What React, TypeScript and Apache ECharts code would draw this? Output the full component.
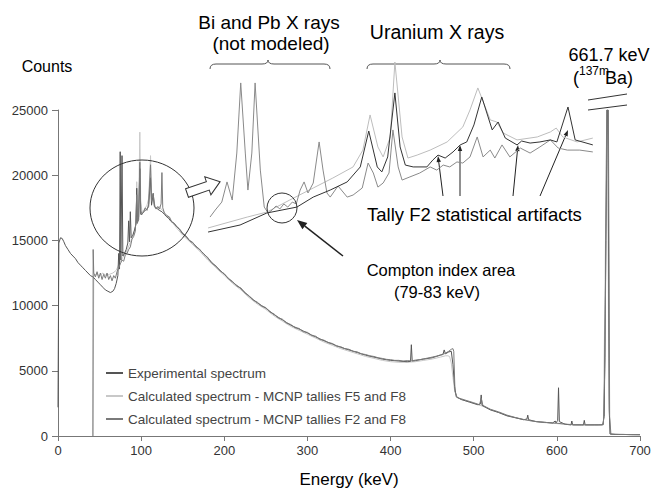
import React, { useEffect, useRef } from 'react';
import * as echarts from 'echarts';

// ---------- Data (energy keV, counts) ----------
const LEGEND_NAMES = [
  'Experimental spectrum',
  'Calculated spectrum - MCNP tallies F5 and F8',
  'Calculated spectrum - MCNP tallies F2 and F8',
];

const EXPERIMENTAL: [number, number][] = [
  [0, 2200], [1, 14800], [3, 15200], [5, 15150], [7, 14900], [9, 14600], [12, 14300], [15, 14000], [18, 13800],
  [21, 13600], [24, 13300], [27, 13100], [30, 12900], [33, 12700], [36, 12500], [39, 12300], [42, 12200],
  [45, 12000], [48, 11800], [51, 11600], [54, 11400], [57, 11200], [60, 11100], [63, 11000], [66, 11100],
  [68, 11300], [70, 11700], [72, 12300], [73, 14000], [74, 12800], [74.8, 21800], [75.6, 13500], [77, 21500],
  [78, 13800], [80, 14000], [82, 14300], [84, 14800], [85, 16500], [86, 14900], [87, 17200], [88, 15200],
  [90, 15400], [92, 15800], [94, 16300], [94.7, 19000], [95.5, 16400], [97, 16600], [98.4, 20500], [99.5, 17000],
  [101, 17000], [103, 17200], [105, 17300], [107, 17400], [109, 17600], [111.3, 19800], [112.5, 17700],
  [114.5, 18600], [116, 17600], [118, 17500], [120, 17400], [122, 17300], [125, 17200], [128, 17000],
  [130, 16850], [133, 16700], [136, 16450], [139, 16350], [142, 16100], [146, 15850], [150, 15500], [154, 15300],
  [158, 15000], [162, 14800], [166, 14550], [170, 14300], [175, 14000], [180, 13650], [185, 13300], [190, 13000],
  [195, 12700], [200, 12400], [205, 12100], [210, 11800], [215, 11550], [220, 11300], [225, 11000], [230, 10700],
  [235, 10450], [240, 10200], [245, 10000], [250, 9800], [255, 9550], [260, 9300], [265, 9100], [270, 8900],
  [275, 8700], [280, 8500], [285, 8350], [290, 8200], [295, 8050], [300, 7900], [305, 7750], [310, 7600],
  [315, 7450], [320, 7300], [325, 7180], [330, 7050], [335, 6920], [340, 6800], [345, 6700], [350, 6600],
  [355, 6500], [360, 6400], [365, 6300], [370, 6200], [375, 6120], [380, 6050], [385, 5980], [390, 5900],
  [395, 5850], [400, 5800], [405, 5780], [410, 5750], [415, 5720], [420, 5700], [424, 5720], [425, 7000],
  [426, 5750], [430, 5780], [435, 5850], [440, 5900], [445, 5950], [450, 6000], [455, 6100], [460, 6200],
  [463, 6250], [464.5, 6600], [466, 6300], [470, 6450], [473, 6500], [475, 5500], [477, 3800], [479, 3000],
  [485, 2800], [495, 2600], [505, 2400], [508, 2450], [509, 3150], [510, 2350], [520, 2000], [530, 1800],
  [540, 1550], [550, 1400], [560, 1250], [564, 1300], [565, 1600], [566, 1250], [575, 1100], [585, 1050],
  [595, 1000], [598, 1150], [599, 1000], [601, 1200], [602, 3700], [603, 1100], [610, 900], [617, 850],
  [618, 1150], [619, 850], [630, 850], [632, 850], [633, 1200], [634, 850], [645, 850], [655, 850],
  [657, 1500], [659, 15000], [660.5, 25000], [661.5, 25000], [663, 2000], [664, 150], [670, 120], [680, 120],
  [690, 100], [700, 100],
];

const CALC_F5F8: [number, number][] = [
  [42, 0], [43, 12300], [46, 12400], [50, 12300], [54, 12500], [58, 12300], [62, 12400], [66, 12500], [70, 12700],
  [72, 13000], [74, 13300], [76, 13500], [78, 13700], [80, 13900], [82, 14100], [84, 14400], [86, 14700],
  [88, 15000], [90, 15300], [92, 15700], [94, 16300], [94.7, 19500], [95.5, 16800], [97, 17500], [98.4, 23300],
  [99.5, 18000], [101, 17200], [103, 17300], [105, 17500], [107, 17700], [109, 18200], [111.3, 21500],
  [112.5, 18300], [114.5, 18200], [116, 17800], [118, 17500], [120, 17500], [122, 17600], [124, 17400],
  [126, 17300], [128, 17100], [131, 16900], [135, 16600], [140, 16150], [150, 15400], [160, 14800], [170, 14200],
  [180, 13500], [190, 12900], [200, 12300], [210, 11700], [220, 11200], [230, 10600], [240, 10100], [250, 9700],
  [260, 9200], [270, 8800], [280, 8400], [290, 8100], [300, 7800], [310, 7500], [320, 7200], [330, 6950],
  [340, 6700], [350, 6500], [360, 6300], [370, 6100], [380, 5950], [390, 5800], [400, 5700], [410, 5650],
  [420, 5650], [430, 5700], [440, 5800], [450, 5900], [460, 6050], [466, 6150], [469, 6150], [471, 6100],
  [473, 5600], [475, 4500], [477, 3500], [480, 3000], [485, 2800], [490, 2700], [500, 2500], [510, 2300],
  [520, 2050], [530, 1800], [540, 1550], [550, 1400], [560, 1250], [570, 1150], [580, 1050], [590, 1000],
  [600, 950], [610, 900], [620, 850], [630, 850], [640, 850], [650, 850], [656, 900], [658, 12000],
  [660, 25000], [661, 25000], [662.5, 3000], [664, 150], [670, 120], [700, 100],
];

const CALC_F2F8: [number, number][] = [
  [42, 0], [42.3, 14300], [43, 12500], [45, 12200], [47, 12600], [49, 12100], [51, 12500], [53, 12000],
  [55, 12400], [57, 12100], [59, 12500], [61, 12000], [63, 12300], [65, 11900], [67, 12300], [69, 12100],
  [71, 12600], [73, 12900], [75, 13200], [77, 13500], [79, 13400], [81, 13900], [83, 14000], [85, 14300],
  [87, 14500], [89, 15100], [91, 15300], [93, 15700], [94.7, 18500], [95.5, 16300], [97, 16800], [98.4, 21000],
  [99.5, 17300], [101, 17000], [103, 17200], [105, 17500], [107, 17300], [109, 17800], [111.3, 20800],
  [112.5, 18000], [114.5, 18600], [116, 17600], [118, 17400], [120, 17600], [122, 17400], [124, 17800],
  [125, 20200], [126, 17500], [128, 17100], [131, 16900], [134, 16800], [137, 16400], [140, 16300], [143, 16050],
  [146, 15900], [150, 15550], [154, 15350], [158, 15000], [162, 14850], [166, 14500], [170, 14350], [175, 13950],
  [180, 13700], [185, 13250], [190, 13050], [195, 12650], [200, 12450], [205, 12050], [210, 11850], [215, 11500],
  [220, 11350], [225, 10950], [230, 10750], [235, 10400], [240, 10250], [245, 9950], [250, 9850], [255, 9500],
  [260, 9350], [265, 9050], [270, 8950], [275, 8650], [280, 8550], [285, 8300], [290, 8250], [295, 8000],
  [300, 7950], [305, 7700], [310, 7650], [315, 7400], [320, 7350], [325, 7150], [330, 7100], [335, 6900],
  [340, 6850], [345, 6700], [350, 6650], [355, 6500], [360, 6450], [365, 6300], [370, 6250], [375, 6150],
  [380, 6100], [385, 6000], [390, 5950], [395, 5880], [400, 5850], [405, 5800], [410, 5800], [415, 5750],
  [420, 5780], [425, 5760], [430, 5820], [435, 5850], [440, 5920], [445, 5980], [450, 6050], [455, 6120],
  [460, 6220], [465, 6320], [470, 6500], [473, 6650], [475, 6700], [476, 6500], [477.5, 3400], [480, 2950],
  [490, 2750], [500, 2550], [507, 2400], [509, 2900], [511, 2350], [520, 2050], [530, 1850], [540, 1600],
  [550, 1420], [560, 1270], [570, 1150], [580, 1080], [590, 1020], [600, 980], [612, 900], [620, 870],
  [630, 860], [640, 860], [650, 860], [656, 870], [658, 6000], [660, 25000], [662, 25000], [663.5, 1500],
  [665, 150], [675, 120], [690, 110], [700, 100],
];

// Inset (magnified 68-130 keV region, relative units 0-100)
const INSET_EXP: [number, number][] = [
  [70.3, 12.4], [71.1, 16.2], [72.1, 20.5], [72.9, 31.4], [73.7, 21.6], [74.4, 47.0], [75.0, 84.9], [75.7, 47.0],
  [76.1, 27.0], [76.7, 47.0], [77.2, 84.9], [78.0, 37.8], [78.6, 17.8], [79.2, 14.6], [79.8, 16.2], [80.4, 18.4],
  [81.0, 16.8], [81.6, 19.5], [82.2, 17.8], [82.9, 20.5], [83.5, 19.5], [84.1, 27.0], [84.7, 31.4], [85.3, 25.4],
  [86.1, 30.8], [87.0, 53.0], [87.6, 37.8], [88.2, 25.4], [88.7, 23.2], [89.9, 29.2], [91.3, 23.2], [92.2, 24.3],
  [93.6, 28.1], [94.5, 41.6], [95.3, 36.2], [96.0, 28.6], [96.8, 30.8], [97.7, 36.2], [98.3, 59.5], [99.1, 39.5],
  [99.7, 32.4], [100.9, 34.1], [102.4, 36.2], [104.0, 39.5], [105.0, 37.8], [106.0, 40.5], [107.0, 39.5],
  [108.1, 42.2], [109.0, 41.6], [110.1, 44.9], [111.2, 55.7], [112.1, 44.9], [113.2, 48.6], [113.9, 44.3],
  [115.0, 51.4], [116.2, 44.9], [117.8, 49.7], [119.3, 47.0], [120.8, 50.3], [122.4, 54.1], [123.6, 49.7],
  [125.0, 48.6], [126.9, 48.6], [128.9, 47.6],
];

const INSET_F5F8: [number, number][] = [
  [70.0, 6.5], [76.0, 12.4], [79.0, 15.1], [82.5, 21.6], [86.1, 28.1], [89.1, 33.5], [92.2, 39.5], [93.7, 48.6],
  [94.8, 67.6], [96.0, 50.3], [96.8, 44.9], [97.9, 55.7], [98.6, 96.2], [99.7, 55.7], [100.6, 44.3], [102.0, 45.9],
  [104.0, 48.6], [106.6, 53.0], [109.0, 61.1], [110.1, 70.3], [111.3, 82.2], [113.2, 64.9], [114.2, 63.8],
  [115.2, 57.8], [117.3, 54.1], [120.4, 55.7], [122.4, 58.4], [123.3, 60.5], [124.3, 55.7], [126.5, 53.0],
  [128.9, 55.1],
];

const INSET_F2F8: [number, number][] = [
  [70.0, 4.3], [74.9, 8.1], [79.0, 14.6], [83.6, 17.8], [86.1, 23.2], [88.7, 27.0], [91.3, 31.4], [93.3, 39.5],
  [94.6, 58.9], [95.9, 39.5], [96.6, 36.8], [97.5, 44.9], [98.6, 79.5], [99.4, 50.3], [100.2, 40.5], [101.4, 39.5],
  [103.5, 39.5], [104.4, 43.2], [105.2, 45.9], [106.3, 44.3], [107.5, 47.6], [108.6, 51.4], [109.6, 53.0],
  [110.7, 62.2], [111.9, 77.3], [113.5, 59.5], [114.4, 63.8], [115.5, 55.1], [117.3, 51.4], [118.0, 53.5],
  [119.3, 52.4], [120.8, 53.0], [122.4, 54.1], [123.4, 53.0], [125.1, 71.9], [126.2, 54.1], [128.9, 51.4],
];

const FONT = '"Liberation Sans", Arial, Helvetica, sans-serif';

function arrow(x1: number, y1: number, x2: number, y2: number, head: number, w: number, lw: number) {
  const dx = x2 - x1, dy = y2 - y1;
  const L = Math.hypot(dx, dy);
  const ux = dx / L, uy = dy / L;
  const bx = x2 - ux * head, by = y2 - uy * head;
  return [
    { type: 'line', shape: { x1, y1, x2: bx, y2: by }, style: { stroke: '#222', lineWidth: lw } },
    {
      type: 'polygon',
      shape: { points: [[x2, y2], [bx - uy * w, by + ux * w], [bx + uy * w, by - ux * w]] },
      style: { fill: '#222' },
    },
  ];
}

function txt(text: string, x: number, y: number, size: number, align = 'center') {
  return {
    type: 'text',
    x,
    y,
    style: { text, fill: '#000', font: `${size}px ${FONT}`, textAlign: align, textVerticalAlign: 'middle' },
  };
}

let registered = false;
function registerShapes() {
  if (registered) return;
  registered = true;
  echarts.graphic.registerShape(
    'brace1',
    echarts.graphic.extendPath('M0,9 Q0,4 6,4 L52,4 Q58,4 58,0 Q58,4 64,4 L114,4 Q120,4 120,9', {})
  );
  echarts.graphic.registerShape(
    'brace2',
    echarts.graphic.extendPath('M0,9 Q0,4 6,4 L67,4 Q73,4 73,0 Q73,4 79,4 L137,4 Q143,4 143,9', {})
  );
}

export default function App() {
  const ref = useRef<HTMLDivElement>(null);

  useEffect(() => {
    if (!ref.current) return;
    registerShapes();
    const chart = echarts.init(ref.current, undefined, { renderer: 'svg' });

    const mainLine = (name: string, data: [number, number][], color: string, z: number) => ({
      name,
      type: 'line',
      data,
      xAxisIndex: 0,
      yAxisIndex: 0,
      showSymbol: false,
      symbol: 'none',
      color,
      lineStyle: { color, width: 1 },
      z,
    });
    const insetLine = (name: string, data: [number, number][], color: string, z: number) => ({
      name,
      type: 'line',
      data,
      xAxisIndex: 1,
      yAxisIndex: 1,
      showSymbol: false,
      symbol: 'none',
      color,
      lineStyle: { color, width: 1 },
      z,
    });

    const graphic: any[] = [
      txt('Counts', 47, 66, 16),
      txt('Bi and Pb X rays', 269, 22, 19),
      txt('(not modeled)', 271, 43, 19),
      txt('Uranium X rays', 437, 32, 19.5),
      txt('661.7 keV', 609, 55, 18),
      txt('(', 573, 78, 18, 'left'),
      txt('137m', 579, 71, 12, 'left'),
      txt('Ba)', 605, 78, 18, 'left'),
      txt('Tally F2 statistical artifacts', 367, 214, 18.5, 'left'),
      txt('Compton index area', 441, 270, 16.5),
      txt('(79-83 keV)', 437, 292, 16.5),
      { type: 'brace1', x: 210, y: 60, style: { fill: 'none', stroke: '#555', lineWidth: 1 } },
      { type: 'brace2', x: 367, y: 60, style: { fill: 'none', stroke: '#555', lineWidth: 1 } },
      { type: 'ellipse', shape: { cx: 142, cy: 208, rx: 52, ry: 48 }, style: { fill: 'none', stroke: '#333', lineWidth: 1 }, z: 100 },
      { type: 'circle', shape: { cx: 282, cy: 208, r: 15 }, style: { fill: 'none', stroke: '#333', lineWidth: 1 }, z: 100 },
      {
        type: 'polygon',
        x: 187,
        y: 193,
        rotation: 0.33,
        shape: { points: [[0, -4.5], [22, -4.5], [22, -9.5], [35, 0], [22, 9.5], [22, 4.5], [0, 4.5]] },
        style: { fill: '#fff', stroke: '#333', lineWidth: 1 },
        z: 100,
      },
      { type: 'line', shape: { x1: 588, y1: 100, x2: 627, y2: 94 }, style: { stroke: '#333', lineWidth: 1 } },
      { type: 'line', shape: { x1: 588, y1: 110, x2: 627, y2: 105 }, style: { stroke: '#333', lineWidth: 1 } },
      ...arrow(343, 256, 297, 220, 10, 4, 1.5),
      ...arrow(443, 196, 438, 156, 6, 2.2, 1),
      ...arrow(460, 196, 460, 145, 6, 2.2, 1),
      ...arrow(513, 196, 518, 145, 6, 2.2, 1),
      ...arrow(540, 196, 568, 130, 6, 2.2, 1),
    ];

    chart.setOption({
      animation: false,
      backgroundColor: '#fff',
      textStyle: { fontFamily: FONT },
      grid: [
        { left: 58, right: 12, top: 110, bottom: 53, containLabel: false, outerBoundsMode: 'none' },
        { left: 195, top: 55, width: 405, height: 185, containLabel: false, outerBoundsMode: 'none' },
      ],
      legend: {
        data: LEGEND_NAMES,
        orient: 'vertical',
        left: 101,
        top: 361,
        itemWidth: 17,
        itemHeight: 2,
        icon: 'rect',
        itemGap: 9,
        selectedMode: false,
        textStyle: { fontSize: 13.5, color: '#444', fontFamily: FONT },
      },
      xAxis: [
        {
          type: 'value',
          gridIndex: 0,
          min: 0,
          max: 700,
          interval: 100,
          axisLine: { show: true, lineStyle: { color: '#777' } },
          axisTick: { show: true, length: 5, lineStyle: { color: '#777' } },
          splitLine: { show: false },
          axisLabel: { fontSize: 13, color: '#333', margin: 8 },
          name: 'Energy (keV)',
          nameLocation: 'middle',
          nameGap: 35,
          nameTextStyle: { fontSize: 17, color: '#000' },
        },
        { type: 'value', gridIndex: 1, min: 68, max: 130, show: false },
      ],
      yAxis: [
        {
          type: 'value',
          gridIndex: 0,
          min: 0,
          max: 25000,
          interval: 5000,
          axisLine: { show: true, lineStyle: { color: '#777' } },
          axisTick: { show: true, length: 6, lineStyle: { color: '#777' } },
          splitLine: { show: false },
          axisLabel: { fontSize: 13, color: '#333', margin: 10, formatter: (v: number) => String(v) },
        },
        { type: 'value', gridIndex: 1, min: 0, max: 100, show: false },
      ],
      series: [
        mainLine(LEGEND_NAMES[1], CALC_F5F8, '#c8c8c8', 2),
        mainLine(LEGEND_NAMES[0], EXPERIMENTAL, '#555555', 3),
        mainLine(LEGEND_NAMES[2], CALC_F2F8, '#7a7a7a', 4),
        insetLine('inset-f5', INSET_F5F8, '#bdbdbd', 5),
        insetLine('inset-exp', INSET_EXP, '#8a8a8a', 6),
        insetLine('inset-f2', INSET_F2F8, '#333333', 7),
      ],
      graphic,
    });

    return () => chart.dispose();
  }, []);

  return <div ref={ref} style={{ position: 'fixed', left: 0, top: 0, width: 652, height: 489 }} />;
}
